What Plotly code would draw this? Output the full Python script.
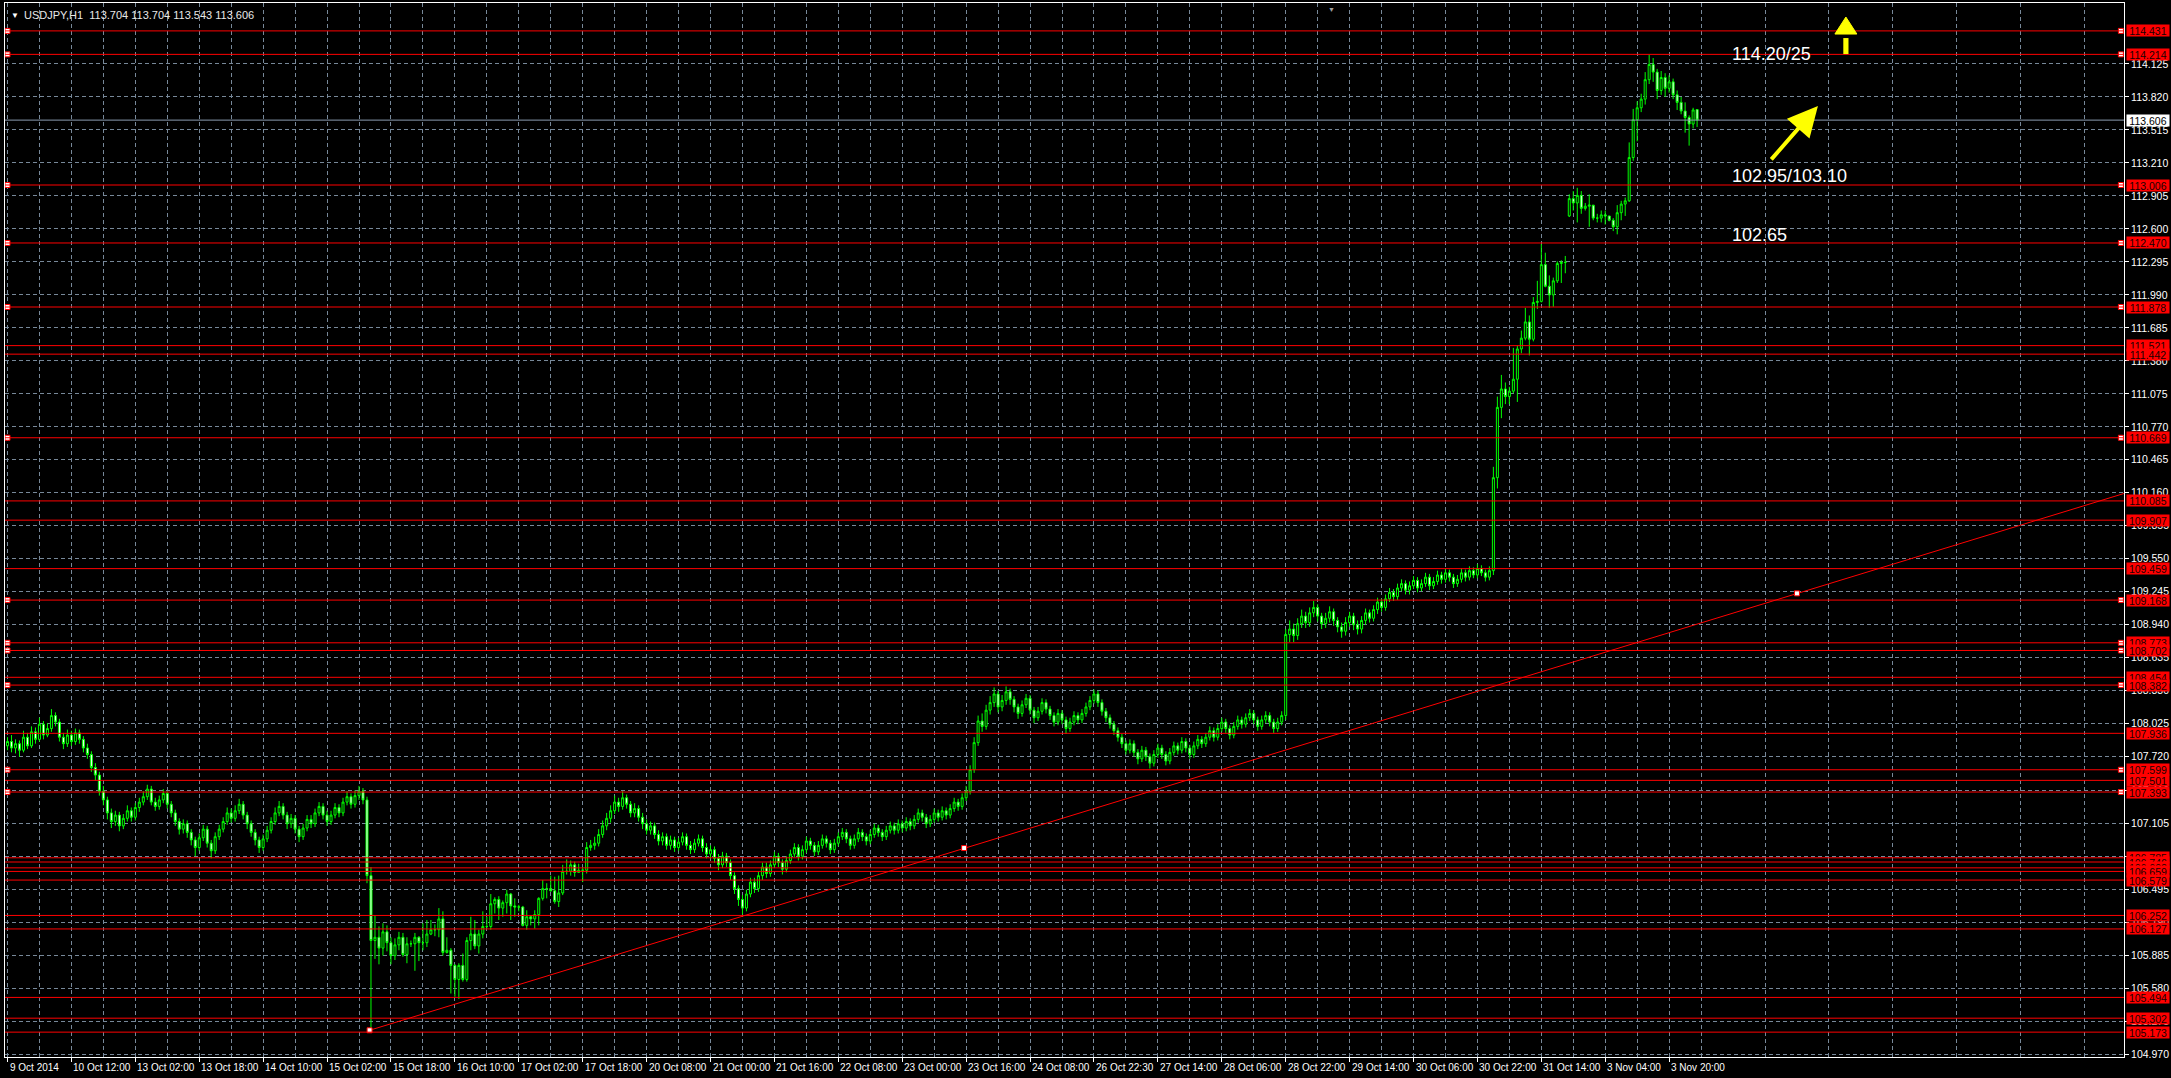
import plotly.graph_objects as go

# USDJPY H1 candles, bar 0 = 9 Oct 2014 20:00
opens = [
    107.82, 107.86, 107.80, 107.84, 107.78, 107.90, 107.82, 107.95, 107.88, 108.02, 107.92, 107.98, 108.10, 108.04, 107.90, 107.84,
    107.92, 107.86, 107.94, 107.88, 107.80, 107.74, 107.62, 107.55, 107.40, 107.32, 107.20, 107.12, 107.18, 107.08, 107.15, 107.22,
    107.16, 107.25, 107.30, 107.35, 107.42, 107.30, 107.26, 107.32, 107.38, 107.28, 107.20, 107.12, 107.05, 107.10, 107.02, 106.95,
    106.88, 106.97, 107.05, 106.92, 106.85, 106.98, 107.05, 107.12, 107.20, 107.15, 107.22, 107.28, 107.18, 107.10, 107.02, 106.95,
    106.88, 106.96, 107.04, 107.12, 107.20, 107.26, 107.18, 107.10, 107.15, 107.05, 106.98, 107.06, 107.14, 107.10, 107.20, 107.26,
    107.18, 107.12, 107.18, 107.25, 107.20, 107.30, 107.35, 107.28, 107.36, 107.40, 107.32, 106.62, 106.02, 106.05, 105.95, 106.10,
    106.00, 105.88, 105.98, 106.05, 105.89, 105.99, 105.99, 106.05, 106.00, 106.00, 106.08, 106.12, 106.12, 106.22, 105.91, 105.93,
    105.79, 105.66, 105.79, 105.66, 106.02, 106.08, 105.97, 106.08, 106.15, 106.15, 106.36, 106.40, 106.32, 106.37, 106.45, 106.34,
    106.33, 106.33, 106.16, 106.24, 106.22, 106.26, 106.41, 106.50, 106.50, 106.48, 106.38, 106.46, 106.66, 106.66, 106.72, 106.65,
    106.67, 106.67, 106.88, 106.90, 106.92, 107.00, 107.08, 107.15, 107.22, 107.30, 107.26, 107.34, 107.28, 107.20, 107.24, 107.16,
    107.10, 107.04, 107.08, 107.00, 106.94, 106.98, 106.90, 106.95, 106.88, 106.93, 106.98, 106.90, 106.86, 106.92, 106.96, 106.88,
    106.82, 106.86, 106.78, 106.72, 106.80, 106.74, 106.62, 106.50, 106.40, 106.32, 106.45, 106.56, 106.50, 106.62, 106.70, 106.64,
    106.72, 106.80, 106.74, 106.68, 106.76, 106.82, 106.88, 106.80, 106.86, 106.94, 106.90, 106.84, 106.90, 106.96, 106.92, 106.86,
    106.92, 106.98, 107.02, 106.96, 106.90, 106.96, 107.02, 106.98, 106.94, 107.00, 107.06, 107.02, 106.98, 107.04, 107.08, 107.04,
    107.10, 107.06, 107.12, 107.08, 107.14, 107.20, 107.16, 107.10, 107.14, 107.20, 107.16, 107.22, 107.18, 107.24, 107.30, 107.26,
    107.34, 107.40, 107.60, 107.85, 108.05, 108.00, 108.15, 108.22, 108.30, 108.18, 108.24, 108.32, 108.25, 108.18, 108.12, 108.20,
    108.26, 108.15, 108.08, 108.14, 108.22, 108.16, 108.10, 108.04, 108.12, 108.06, 107.98, 108.04, 108.10, 108.06, 108.12, 108.18,
    108.24, 108.30, 108.22, 108.14, 108.08, 108.02, 107.96, 107.90, 107.84, 107.78, 107.84, 107.76, 107.70, 107.78, 107.72, 107.66,
    107.74, 107.80, 107.74, 107.68, 107.76, 107.82, 107.78, 107.86, 107.80, 107.74, 107.82, 107.88, 107.84, 107.90, 107.96, 107.90,
    107.98, 108.04, 107.98, 107.92, 108.00, 108.06, 108.02, 108.08, 108.12, 108.06, 108.00, 108.06, 108.10, 108.04, 107.98, 108.04,
    108.10, 108.85, 108.90, 108.84, 108.95, 109.02, 108.96, 109.05, 109.10, 109.02, 108.95, 109.00, 109.06, 108.98, 108.92, 108.88,
    108.96, 109.02, 108.94, 108.90, 108.98, 109.05, 109.00, 109.08, 109.15, 109.10, 109.18, 109.24, 109.20, 109.28, 109.32, 109.26,
    109.30, 109.35, 109.28, 109.32, 109.38, 109.30, 109.34, 109.40, 109.36, 109.42, 109.38, 109.32, 109.36, 109.42, 109.38, 109.44,
    109.40, 109.46, 109.42, 109.38, 109.44, 110.30, 110.95, 111.12, 111.05, 111.10, 111.21, 111.49, 111.59, 111.74, 111.58, 111.92,
    111.93, 112.27, 112.07, 111.99, 112.12, 112.28, 112.29, 112.72, 112.88, 112.84, 112.91, 112.79, 112.81, 112.82, 112.70, 112.70,
    112.73, 112.72, 112.68, 112.62, 112.75, 112.83, 112.86, 113.26, 113.61, 113.72, 113.80, 113.98, 114.12, 114.05, 113.88, 114.00,
    113.90, 113.96, 113.84, 113.77, 113.69, 113.63, 113.57, 113.704,
]
highs = [
    107.90, 107.92, 107.88, 107.87, 107.96, 107.94, 108.00, 107.99, 108.08, 108.05, 108.03, 108.16, 108.13, 108.07, 107.94, 107.97,
    107.96, 107.98, 107.97, 107.91, 107.84, 107.77, 107.66, 107.58, 107.45, 107.35, 107.24, 107.22, 107.21, 107.19, 107.27, 107.25,
    107.29, 107.34, 107.40, 107.46, 107.45, 107.34, 107.36, 107.42, 107.40, 107.31, 107.23, 107.15, 107.14, 107.13, 107.05, 106.98,
    107.01, 107.09, 107.08, 106.95, 107.02, 107.09, 107.16, 107.25, 107.24, 107.27, 107.33, 107.31, 107.21, 107.13, 107.05, 106.98,
    107.00, 107.08, 107.16, 107.25, 107.31, 107.29, 107.21, 107.19, 107.18, 107.08, 107.10, 107.18, 107.18, 107.24, 107.30, 107.29,
    107.22, 107.22, 107.29, 107.28, 107.34, 107.40, 107.38, 107.41, 107.45, 107.43, 107.35, 106.70, 106.25, 106.15, 106.18, 106.16,
    106.05, 106.04, 106.10, 106.09, 106.05, 106.02, 106.09, 106.06, 106.18, 106.21, 106.21, 106.17, 106.32, 106.29, 106.05, 105.95,
    105.80, 105.81, 105.90, 106.05, 106.24, 106.21, 106.12, 106.29, 106.24, 106.45, 106.42, 106.43, 106.39, 106.49, 106.46, 106.41,
    106.35, 106.34, 106.30, 106.25, 106.30, 106.42, 106.58, 106.55, 106.62, 106.61, 106.62, 106.72, 106.77, 106.76, 106.75, 106.73,
    106.70, 106.93, 106.95, 106.98, 107.05, 107.13, 107.20, 107.27, 107.36, 107.34, 107.40, 107.37, 107.31, 107.29, 107.27, 107.20,
    107.14, 107.12, 107.11, 107.04, 107.02, 107.01, 106.99, 106.98, 106.97, 107.02, 107.01, 106.94, 106.96, 107.00, 106.99, 106.92,
    106.90, 106.89, 106.82, 106.84, 106.83, 106.77, 106.65, 106.53, 106.44, 106.49, 106.60, 106.60, 106.66, 106.74, 106.74, 106.76,
    106.84, 106.83, 106.77, 106.80, 106.86, 106.92, 106.91, 106.90, 106.98, 106.97, 106.93, 106.94, 107.00, 106.99, 106.95, 106.96,
    107.02, 107.06, 107.05, 106.99, 107.00, 107.06, 107.05, 107.01, 107.04, 107.10, 107.09, 107.05, 107.08, 107.12, 107.11, 107.14,
    107.13, 107.16, 107.15, 107.18, 107.24, 107.23, 107.19, 107.18, 107.24, 107.23, 107.26, 107.25, 107.28, 107.34, 107.33, 107.38,
    107.45, 107.64, 107.90, 108.10, 108.12, 108.20, 108.28, 108.36, 108.33, 108.29, 108.37, 108.35, 108.28, 108.21, 108.24, 108.30,
    108.29, 108.18, 108.18, 108.26, 108.25, 108.19, 108.13, 108.16, 108.15, 108.09, 108.08, 108.14, 108.13, 108.16, 108.22, 108.28,
    108.34, 108.33, 108.25, 108.17, 108.11, 108.05, 107.99, 107.93, 107.87, 107.88, 107.87, 107.79, 107.82, 107.81, 107.75, 107.78,
    107.84, 107.83, 107.77, 107.80, 107.86, 107.85, 107.90, 107.89, 107.83, 107.86, 107.92, 107.91, 107.94, 108.00, 107.99, 108.02,
    108.08, 108.07, 108.01, 108.04, 108.10, 108.09, 108.12, 108.16, 108.15, 108.09, 108.10, 108.14, 108.13, 108.07, 108.08, 108.14,
    108.90, 108.98, 108.95, 109.00, 109.08, 109.06, 109.10, 109.16, 109.13, 109.05, 109.05, 109.11, 109.09, 109.01, 108.96, 109.01,
    109.06, 109.05, 108.98, 109.02, 109.09, 109.08, 109.12, 109.19, 109.18, 109.22, 109.28, 109.27, 109.32, 109.36, 109.35, 109.34,
    109.39, 109.38, 109.36, 109.42, 109.41, 109.38, 109.44, 109.43, 109.46, 109.45, 109.41, 109.40, 109.46, 109.45, 109.48, 109.47,
    109.50, 109.49, 109.45, 109.48, 110.40, 111.05, 111.25, 111.18, 111.14, 111.50, 111.52, 111.66, 111.87, 111.80, 111.97, 112.12,
    112.46, 112.38, 112.17, 112.15, 112.30, 112.31, 112.35, 112.92, 112.95, 112.98, 112.95, 112.84, 112.92, 112.81, 112.74, 112.77,
    112.77, 112.72, 112.70, 112.82, 112.86, 112.89, 113.40, 113.71, 113.78, 113.85, 114.05, 114.21, 114.18, 114.08, 114.06, 114.04,
    114.02, 113.99, 113.88, 113.82, 113.77, 113.65, 113.72, 113.704,
]
lows = [
    107.78, 107.76, 107.75, 107.72, 107.76, 107.79, 107.80, 107.84, 107.86, 107.88, 107.90, 107.95, 108.00, 107.86, 107.79, 107.81,
    107.82, 107.83, 107.84, 107.76, 107.70, 107.58, 107.50, 107.36, 107.27, 107.14, 107.06, 107.08, 107.03, 107.05, 107.12, 107.12,
    107.13, 107.21, 107.27, 107.32, 107.27, 107.22, 107.23, 107.29, 107.24, 107.16, 107.08, 107.00, 107.01, 106.97, 106.90, 106.80,
    106.85, 106.94, 106.88, 106.78, 106.82, 106.95, 107.02, 107.09, 107.11, 107.12, 107.19, 107.14, 107.05, 106.98, 106.90, 106.83,
    106.85, 106.93, 107.01, 107.09, 107.17, 107.14, 107.05, 107.06, 107.01, 106.93, 106.95, 107.03, 107.06, 107.07, 107.17, 107.14,
    107.08, 107.09, 107.15, 107.16, 107.17, 107.27, 107.24, 107.25, 107.32, 107.28, 106.55, 105.19, 105.85, 105.80, 105.88, 105.92,
    105.80, 105.84, 105.93, 105.87, 105.81, 105.96, 105.74, 105.83, 105.93, 105.96, 106.07, 106.06, 106.05, 105.88, 105.90, 105.53,
    105.50, 105.48, 105.64, 105.64, 105.93, 105.94, 105.90, 106.04, 106.13, 106.12, 106.27, 106.21, 106.24, 106.27, 106.21, 106.24,
    106.29, 106.15, 106.12, 106.16, 106.13, 106.16, 106.39, 106.41, 106.47, 106.36, 106.33, 106.44, 106.63, 106.62, 106.61, 106.65,
    106.56, 106.64, 106.85, 106.86, 106.89, 106.97, 107.04, 107.11, 107.19, 107.21, 107.23, 107.24, 107.16, 107.16, 107.12, 107.05,
    107.00, 107.00, 106.96, 106.90, 106.90, 106.86, 106.86, 106.84, 106.85, 106.90, 106.86, 106.82, 106.83, 106.89, 106.84, 106.78,
    106.78, 106.74, 106.67, 106.69, 106.70, 106.58, 106.45, 106.34, 106.26, 106.29, 106.42, 106.46, 106.47, 106.58, 106.60, 106.61,
    106.69, 106.70, 106.63, 106.65, 106.73, 106.79, 106.76, 106.77, 106.83, 106.86, 106.80, 106.81, 106.87, 106.88, 106.82, 106.83,
    106.89, 106.95, 106.92, 106.86, 106.87, 106.93, 106.94, 106.90, 106.91, 106.97, 106.98, 106.94, 106.95, 107.01, 107.00, 107.01,
    107.02, 107.03, 107.04, 107.05, 107.11, 107.12, 107.06, 107.07, 107.11, 107.12, 107.13, 107.14, 107.15, 107.21, 107.22, 107.23,
    107.31, 107.37, 107.57, 107.82, 107.95, 107.97, 108.11, 108.18, 108.13, 108.14, 108.20, 108.20, 108.13, 108.07, 108.09, 108.17,
    108.11, 108.03, 108.05, 108.11, 108.12, 108.06, 108.00, 108.01, 108.02, 107.93, 107.95, 108.01, 108.02, 108.03, 108.09, 108.15,
    108.21, 108.18, 108.10, 108.04, 107.98, 107.92, 107.86, 107.80, 107.74, 107.75, 107.72, 107.65, 107.67, 107.68, 107.61, 107.63,
    107.71, 107.70, 107.64, 107.65, 107.73, 107.74, 107.75, 107.76, 107.70, 107.71, 107.79, 107.80, 107.81, 107.87, 107.86, 107.87,
    107.95, 107.94, 107.88, 107.89, 107.97, 107.98, 107.99, 108.05, 108.02, 107.96, 107.97, 108.03, 108.00, 107.94, 107.95, 108.01,
    108.06, 108.78, 108.78, 108.80, 108.91, 108.91, 108.92, 109.01, 108.97, 108.90, 108.91, 108.96, 108.93, 108.87, 108.82, 108.84,
    108.92, 108.89, 108.85, 108.86, 108.94, 108.96, 108.97, 109.04, 109.06, 109.07, 109.15, 109.16, 109.17, 109.25, 109.22, 109.22,
    109.27, 109.24, 109.25, 109.29, 109.26, 109.27, 109.31, 109.32, 109.33, 109.34, 109.28, 109.29, 109.33, 109.34, 109.35, 109.37,
    109.37, 109.39, 109.34, 109.35, 109.40, 110.20, 110.85, 110.98, 110.98, 111.08, 111.00, 111.45, 111.57, 111.43, 111.56, 111.86,
    111.92, 112.06, 111.87, 111.88, 112.10, 112.10, 112.19, 112.71, 112.77, 112.66, 112.74, 112.77, 112.62, 112.68, 112.66, 112.66,
    112.64, 112.67, 112.58, 112.55, 112.68, 112.72, 112.85, 113.23, 113.41, 113.68, 113.75, 113.94, 113.96, 113.80, 113.84, 113.82,
    113.86, 113.80, 113.70, 113.66, 113.49, 113.37, 113.53, 113.543,
]
closes = [
    107.86, 107.80, 107.84, 107.78, 107.90, 107.82, 107.95, 107.88, 108.02, 107.92, 107.98, 108.10, 108.04, 107.90, 107.84, 107.92,
    107.86, 107.94, 107.88, 107.80, 107.74, 107.62, 107.55, 107.40, 107.32, 107.20, 107.12, 107.18, 107.08, 107.15, 107.22, 107.16,
    107.25, 107.30, 107.35, 107.42, 107.30, 107.26, 107.32, 107.38, 107.28, 107.20, 107.12, 107.05, 107.10, 107.02, 106.95, 106.88,
    106.97, 107.05, 106.92, 106.85, 106.98, 107.05, 107.12, 107.20, 107.15, 107.22, 107.28, 107.18, 107.10, 107.02, 106.95, 106.88,
    106.96, 107.04, 107.12, 107.20, 107.26, 107.18, 107.10, 107.15, 107.05, 106.98, 107.06, 107.14, 107.10, 107.20, 107.26, 107.18,
    107.12, 107.18, 107.25, 107.20, 107.30, 107.35, 107.28, 107.36, 107.40, 107.32, 106.62, 106.02, 106.05, 105.95, 106.10, 106.00,
    105.88, 105.98, 106.05, 105.89, 105.99, 105.99, 106.05, 106.00, 106.00, 106.08, 106.12, 106.12, 106.22, 105.91, 105.93, 105.79,
    105.66, 105.79, 105.66, 106.02, 106.08, 105.97, 106.08, 106.15, 106.15, 106.36, 106.40, 106.32, 106.37, 106.45, 106.34, 106.33,
    106.33, 106.16, 106.24, 106.22, 106.26, 106.41, 106.50, 106.50, 106.48, 106.38, 106.46, 106.66, 106.66, 106.72, 106.65, 106.67,
    106.67, 106.88, 106.90, 106.92, 107.00, 107.08, 107.15, 107.22, 107.30, 107.26, 107.34, 107.28, 107.20, 107.24, 107.16, 107.10,
    107.04, 107.08, 107.00, 106.94, 106.98, 106.90, 106.95, 106.88, 106.93, 106.98, 106.90, 106.86, 106.92, 106.96, 106.88, 106.82,
    106.86, 106.78, 106.72, 106.80, 106.74, 106.62, 106.50, 106.40, 106.32, 106.45, 106.56, 106.50, 106.62, 106.70, 106.64, 106.72,
    106.80, 106.74, 106.68, 106.76, 106.82, 106.88, 106.80, 106.86, 106.94, 106.90, 106.84, 106.90, 106.96, 106.92, 106.86, 106.92,
    106.98, 107.02, 106.96, 106.90, 106.96, 107.02, 106.98, 106.94, 107.00, 107.06, 107.02, 106.98, 107.04, 107.08, 107.04, 107.10,
    107.06, 107.12, 107.08, 107.14, 107.20, 107.16, 107.10, 107.14, 107.20, 107.16, 107.22, 107.18, 107.24, 107.30, 107.26, 107.34,
    107.40, 107.60, 107.85, 108.05, 108.00, 108.15, 108.22, 108.30, 108.18, 108.24, 108.32, 108.25, 108.18, 108.12, 108.20, 108.26,
    108.15, 108.08, 108.14, 108.22, 108.16, 108.10, 108.04, 108.12, 108.06, 107.98, 108.04, 108.10, 108.06, 108.12, 108.18, 108.24,
    108.30, 108.22, 108.14, 108.08, 108.02, 107.96, 107.90, 107.84, 107.78, 107.84, 107.76, 107.70, 107.78, 107.72, 107.66, 107.74,
    107.80, 107.74, 107.68, 107.76, 107.82, 107.78, 107.86, 107.80, 107.74, 107.82, 107.88, 107.84, 107.90, 107.96, 107.90, 107.98,
    108.04, 107.98, 107.92, 108.00, 108.06, 108.02, 108.08, 108.12, 108.06, 108.00, 108.06, 108.10, 108.04, 107.98, 108.04, 108.10,
    108.85, 108.90, 108.84, 108.95, 109.02, 108.96, 109.05, 109.10, 109.02, 108.95, 109.00, 109.06, 108.98, 108.92, 108.88, 108.96,
    109.02, 108.94, 108.90, 108.98, 109.05, 109.00, 109.08, 109.15, 109.10, 109.18, 109.24, 109.20, 109.28, 109.32, 109.26, 109.30,
    109.35, 109.28, 109.32, 109.38, 109.30, 109.34, 109.40, 109.36, 109.42, 109.38, 109.32, 109.36, 109.42, 109.38, 109.44, 109.40,
    109.46, 109.42, 109.38, 109.44, 110.30, 110.95, 111.12, 111.05, 111.10, 111.21, 111.49, 111.59, 111.74, 111.58, 111.92, 111.93,
    112.27, 112.07, 111.99, 112.12, 112.28, 112.29, 112.29, 112.88, 112.84, 112.91, 112.79, 112.81, 112.82, 112.70, 112.70, 112.73,
    112.72, 112.68, 112.62, 112.75, 112.83, 112.86, 113.26, 113.61, 113.72, 113.80, 113.98, 114.12, 114.05, 113.88, 114.00, 113.90,
    113.96, 113.84, 113.77, 113.69, 113.63, 113.57, 113.70, 113.606,
]
bar_index = list(range(len(closes)))

time_labels = [
    "9 Oct 2014", "10 Oct 12:00", "13 Oct 02:00", "13 Oct 18:00", "14 Oct 10:00", "15 Oct 02:00",
    "15 Oct 18:00", "16 Oct 10:00", "17 Oct 02:00", "17 Oct 18:00", "20 Oct 08:00", "21 Oct 00:00",
    "21 Oct 16:00", "22 Oct 08:00", "23 Oct 00:00", "23 Oct 16:00", "24 Oct 08:00", "26 Oct 22:30",
    "27 Oct 14:00", "28 Oct 06:00", "28 Oct 22:00", "29 Oct 14:00", "30 Oct 06:00", "30 Oct 22:00",
    "31 Oct 14:00", "3 Nov 04:00", "3 Nov 20:00",
]
time_label_bars = [16 * k for k in range(len(time_labels))]
grid_mid_bars = [16 * k + 8 for k in range(34)]

price_ticks = [
    114.125, 113.820, 113.515, 113.210, 112.905, 112.600, 112.295, 111.990, 111.685, 111.380, 111.075,
    110.770, 110.465, 110.160, 109.855, 109.550, 109.245, 108.940, 108.635, 108.330, 108.025, 107.720,
    107.410, 107.105, 106.800, 106.495, 106.190, 105.885, 105.580, 105.275, 104.970,
]

# horizontal support / resistance lines
level_prices = [
    114.431, 114.214, 113.006, 112.470, 111.878, 111.521, 111.442, 110.669, 110.085, 109.907,
    109.459, 109.168, 108.773, 108.702, 108.454, 108.382, 107.936, 107.599, 107.501, 107.393,
    106.785, 106.746, 106.692, 106.659, 106.579, 106.252, 106.127, 105.494, 105.302, 105.173,
]
anchored_levels = [
    114.431, 114.214, 113.006, 112.470, 111.878, 110.669, 109.168, 108.773, 108.702, 108.382,
    107.599, 107.393,
]
current_price = 113.606

# trend line (start on the 15 Oct low) and its selection points
trend_bars = [90.65, 530.0]
trend_prices = [105.19, 110.155]
trend_anchor_bars = [90.65, 239.5, 448.0]
trend_anchor_prices = [105.19, 106.875, 109.23]

target_notes = ["114.20/25", "102.95/103.10", "102.65"]
target_note_prices = [114.213, 113.090, 112.545]
target_note_bar = 431.25

X_RANGE = [-0.625, 529.875]
Y_RANGE = [104.943, 114.689]
GRID = "#778899"
FONT = "Liberation Sans, Arial, sans-serif"

fig = go.Figure()

fig.add_trace(
    go.Candlestick(
        x=bar_index,
        open=opens,
        high=highs,
        low=lows,
        close=closes,
        increasing={"line": {"color": "#00ff00", "width": 1}, "fillcolor": "#000000"},
        decreasing={"line": {"color": "#00ff00", "width": 1}, "fillcolor": "#ffffff"},
        whiskerwidth=0,
        hoverinfo="skip",
    )
)

# level lines
for p in level_prices:
    fig.add_shape(type="line", xref="paper", x0=0, x1=1, yref="y", y0=p, y1=p,
                  line={"color": "#ff0000", "width": 1}, layer="above")

fig.add_shape(type="line", xref="paper", x0=0, x1=1, yref="y", y0=current_price, y1=current_price,
              line={"color": "#8a9ab0", "width": 1}, layer="above")

# trend line
fig.add_trace(
    go.Scatter(x=trend_bars, y=trend_prices, mode="lines", line={"color": "#ff0000", "width": 1},
               hoverinfo="skip")
)

# anchor squares on selected lines
fig.add_trace(
    go.Scatter(
        x=[0] * len(anchored_levels) + [529.1] * len(anchored_levels) + trend_anchor_bars,
        y=anchored_levels + anchored_levels + trend_anchor_prices,
        mode="markers",
        marker={"symbol": "square", "size": 5, "color": "#ffffff", "line": {"color": "#ff0000", "width": 1}},
        cliponaxis=False,
        hoverinfo="skip",
    )
)

annotations = []

# price labels of the level lines on the right scale
for p in level_prices:
    annotations.append(dict(
        xref="paper", x=1, xanchor="left", xshift=2, yref="y", y=p, yanchor="middle",
        text=f"{p:.3f}", showarrow=False, bgcolor="#ff0000", width=42, height=11, borderpad=0,
        font={"family": FONT, "size": 10.5, "color": "#200000"},
    ))
annotations.append(dict(
    xref="paper", x=1, xanchor="left", xshift=2, yref="y", y=current_price, yanchor="middle",
    text=f"{current_price:.3f}", showarrow=False, bgcolor="#ffffff", width=42, height=11, borderpad=0,
    font={"family": FONT, "size": 10.5, "color": "#000000"},
))

# time labels under the chart (left aligned on their tick like MT4)
for b, lab in zip(time_label_bars, time_labels):
    annotations.append(dict(
        xref="x", x=b, xanchor="left", xshift=0, yref="paper", y=0, yanchor="top", yshift=-3,
        text=lab, showarrow=False, font={"family": FONT, "size": 10, "color": "#ffffff"},
    ))

# header
annotations.append(dict(
    xref="paper", x=0, xanchor="left", xshift=4, yref="paper", y=1, yanchor="top", yshift=-6,
    text="▼", showarrow=False, font={"family": FONT, "size": 8, "color": "#ffffff"},
))
annotations.append(dict(
    xref="paper", x=0, xanchor="left", xshift=17, yref="paper", y=1, yanchor="top", yshift=-4,
    text="USDJPY,H1  113.704 113.704 113.543 113.606", showarrow=False,
    font={"family": FONT, "size": 11, "color": "#e8e8e8"},
))
# chart shift marker at the top edge
annotations.append(dict(
    xref="x", x=331.5, yref="paper", y=1, yanchor="top", yshift=-1,
    text="▼", showarrow=False, font={"family": FONT, "size": 7, "color": "#a0a0a0"},
))

# target notes
for txt, p in zip(target_notes, target_note_prices):
    annotations.append(dict(
        xref="x", x=target_note_bar, xanchor="left", yref="y", y=p, yanchor="middle",
        text=txt, showarrow=False, font={"family": FONT, "size": 18, "color": "#ffffff"},
    ))

# yellow arrows
annotations.append(dict(
    xref="x", x=453.25, yref="y", y=113.737, axref="x", ax=441.25, ayref="y", ay=113.229,
    text="", showarrow=True, arrowhead=2, arrowsize=1.5, arrowwidth=4, arrowcolor="#ffff00",
))
fig.add_shape(type="path", xref="x", yref="y",
              path="M 457.5 114.402 L 463.0 114.402 L 460.25 114.559 Z",
              fillcolor="#ffff00", line={"color": "#ffff00", "width": 1}, layer="above")
fig.add_shape(type="rect", xref="x", yref="y", x0=459.6, x1=460.9, y0=114.217, y1=114.365,
              fillcolor="#ffff00", line={"width": 0}, layer="above")

fig.update_layout(
    width=2171,
    height=1078,
    paper_bgcolor="#000000",
    plot_bgcolor="#000000",
    margin={"l": 5, "r": 44, "t": 2, "b": 21},
    showlegend=False,
    boxgap=0.5,
    boxgroupgap=0,
    annotations=annotations,
    xaxis={
        "range": X_RANGE,
        "rangeslider": {"visible": False},
        "tickmode": "array",
        "tickvals": time_label_bars,
        "showticklabels": False,
        "ticks": "outside",
        "ticklen": 4,
        "tickcolor": "#ffffff",
        "showline": True,
        "linecolor": "#ffffff",
        "linewidth": 1,
        "mirror": True,
        "showgrid": True,
        "gridcolor": GRID,
        "griddash": "4px,3px",
        "gridwidth": 1,
        "minor": {"tickvals": grid_mid_bars, "showgrid": True, "gridcolor": GRID,
                  "griddash": "4px,3px", "ticks": ""},
        "zeroline": False,
    },
    yaxis={
        "range": Y_RANGE,
        "side": "right",
        "tickmode": "array",
        "tickvals": price_ticks,
        "tickformat": ".3f",
        "ticks": "outside",
        "ticklen": 4,
        "tickcolor": "#ffffff",
        "tickfont": {"family": FONT, "size": 10.5, "color": "#ffffff"},
        "showline": True,
        "linecolor": "#ffffff",
        "linewidth": 1,
        "mirror": True,
        "showgrid": True,
        "gridcolor": GRID,
        "griddash": "4px,3px",
        "zeroline": False,
    },
)

fig.write_html(
    "out.html",
    config={"displayModeBar": False},
    post_script="document.body.style.margin='0px';document.body.style.overflow='hidden';",
)
